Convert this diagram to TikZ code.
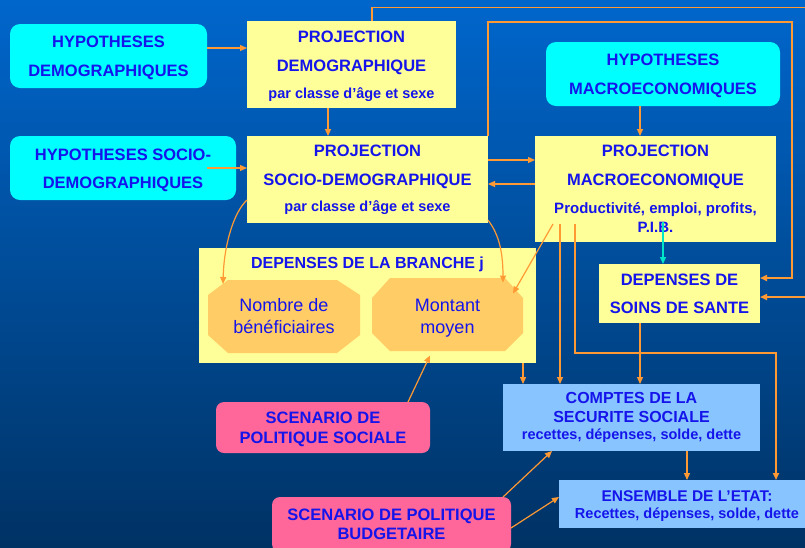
\documentclass[tikz,border=0pt]{standalone}
\usepackage{fontspec}
\setmainfont{Liberation Sans}
\usetikzlibrary{arrows.meta,calc}
\definecolor{bgtop}{RGB}{0,102,204}
\definecolor{bgbot}{RGB}{0,50,100}
\definecolor{cyanbox}{RGB}{0,255,255}
\definecolor{yelbox}{RGB}{255,255,153}
\definecolor{blubox}{RGB}{136,196,255}
\definecolor{pinkbox}{RGB}{255,102,153}
\definecolor{octfill}{RGB}{255,204,102}
\definecolor{txtblue}{RGB}{20,20,235}
\definecolor{arrorange}{RGB}{255,153,51}
\definecolor{arrcyan}{RGB}{0,230,200}
\newcommand\dnstrut{\rule{0pt}{15.5pt}}
\begin{document}
\begin{tikzpicture}[x=1pt,y=-1pt,
  base/.style={inner sep=0pt,outer sep=0pt,align=center,text=txtblue},
  fsz/.style 2 args={font=\fontsize{#1}{#2}\selectfont\bfseries},
  hyp/.style={base,fill=cyanbox,rounded corners=10pt},
  proj/.style={base,fill=yelbox},
  compte/.style={base,fill=blubox},
  scen/.style={base,fill=pinkbox,rounded corners=8pt},
  oct/.style={base,font=\fontsize{18}{22}\selectfont},
  octshape/.style={fill=octfill},
  arr/.style={draw=arrorange,line width=1.2pt,-{Triangle[length=7pt,width=6pt]}},
  loop/.style={arr,line width=1.6pt},
  cyarr/.style={arr,draw=arrcyan,fill=arrcyan}]
\useasboundingbox (0,0) rectangle (805,547);
\shade[top color=bgtop,bottom color=bgbot] (0,0) rectangle (805,547);

% boxes
\node[hyp,fsz={16.5}{29},minimum width=197pt,minimum height=64pt] (hd) at (108.5,56) {\dnstrut HYPOTHESES\\DEMOGRAPHIQUES};
\node[proj,fsz={16.5}{29},minimum width=209pt,minimum height=87pt] (pd) at (351.5,64.5) {\dnstrut PROJECTION\\DEMOGRAPHIQUE\\[-2pt]{\fontsize{14.5}{29}\selectfont par classe d’âge et sexe}};
\node[hyp,fsz={16.5}{28},minimum width=226pt,minimum height=64pt] (hs) at (123,168) {\dnstrut HYPOTHESES SOCIO-\\DEMOGRAPHIQUES};
\node[proj,fsz={16.5}{29},minimum width=241pt,minimum height=87pt] (ps) at (367.5,179.5) {PROJECTION\\SOCIO-DEMOGRAPHIQUE\\[-3pt]{\fontsize{14.5}{29}\selectfont par classe d’âge et sexe}};
\node[hyp,fsz={16.5}{29},minimum width=234pt,minimum height=64pt] (hm) at (663,74) {\dnstrut HYPOTHESES\\MACROECONOMIQUES};
\node[proj,fsz={16.5}{29},minimum width=241pt,minimum height=106pt] (pm) at (655.5,189) {PROJECTION\\MACROECONOMIQUE\\[-1pt]{\fontsize{15}{29}\selectfont Productivité, emploi, profits,}\\[-10pt]{\fontsize{15}{29}\selectfont P.I.B.}};
\node[proj,minimum width=337pt,minimum height=115pt] (br) at (367.5,305.5) {};
\node[base,fsz={16}{19},anchor=base] (brt) at (367.5,268) {DEPENSES DE LA BRANCHE j};
% octagons
\fill[octshape] (228,280) -- (337,280) -- (360,295) -- (360,335) -- (337,353) -- (228,353) -- (208,335) -- (208,295) -- cycle;
\fill[octshape] (390,278) -- (505,278) -- (523,298) -- (523,333) -- (505,351) -- (390,351) -- (372,333) -- (372,298) -- cycle;
\node[oct,minimum width=152pt,minimum height=73pt] (nb) at (284,316.5) {Nombre de\\bénéficiaires};
\node[oct,minimum width=151pt,minimum height=73pt] (mt) at (447.5,318) {Montant\\moyen};
\node[proj,fsz={16.5}{28},minimum width=161pt,minimum height=59pt] (soins) at (679.5,293.5) {DEPENSES DE\\SOINS DE SANTE};
\node[compte,fsz={16}{19},minimum width=257pt,minimum height=67pt] (cs) at (631.5,417.5) {COMPTES DE LA\\SECURITE SOCIALE\\[-2pt]{\fontsize{14.5}{19}\selectfont recettes, dépenses, solde, dette}};
\node[compte,fsz={15.5}{17},minimum width=256pt,minimum height=48pt] (ens) at (687,504) {\dnstrut ENSEMBLE DE L’ETAT:\\{\fontsize{14.5}{17}\selectfont Recettes, dépenses, solde, dette}};
\node[scen,fsz={16.5}{20},minimum width=214pt,minimum height=51pt] (sps) at (323,427.5) {\dnstrut SCENARIO DE\\POLITIQUE SOCIALE};
\node[scen,fsz={16.5}{19},minimum width=239pt,minimum height=55pt] (spb) at (391.5,524.5) {SCENARIO DE POLITIQUE\\BUDGETAIRE};

% connectors
\draw[arr] (hd.east |- 0,48) -- (pd.west |- 0,48);
\draw[arr] (pd.south -| 328,0) -- (ps.north -| 328,0);
\draw[arr] (hs.east -| 207,0) -- (ps.west |- hs.east);
\draw[arr] (ps.east |- 0,160) -- (pm.west |- 0,160);
\draw[arr] (pm.west |- 0,184) -- (ps.east |- 0,184);
\draw[arr] (hm.south -| 640,0) -- (pm.north -| 640,0);
\draw[loop] (pd.north -| 372,0) |- (808,7.5) |- (soins.east |- 0,297);
\draw[loop] (ps.north east) |- (792,22) |- (soins.east |- 0,278);
\draw[arr] (ps.west |- 0,200) .. controls +(-13,12) and +(1,-40) .. ($(nb.north west)+(15,4)$);
\draw[arr] (ps.east |- 0,220) .. controls +(9,12) and +(0,-35) .. ($(mt.north east)+(-20,1)$);
\draw[arr] ($(pm.south west)+(18,-18)$) -- ($(mt.north east)+(-10,12)$);
\draw[arr] ($(pm.south west)+(25,-18)$) -- (cs.north -| 560,0);
\draw[loop] ($(pm.south west)+(40,-18)$) |- (776,353) -- (ens.north -| 776,0);
\draw[cyarr] ($(pm.south -| 663,0)+(0,-20)$) -- (soins.north -| 663,0);
\draw[arr] (br.south -| 523,0) -- (cs.north -| 523,0);
\draw[arr] (soins.south -| 640,0) -- (cs.north -| 640,0);
\draw[arr] (cs.south -| 687,0) -- (ens.north -| 687,0);
\draw[arr] (sps.north -| 408,0) -- ($(mt.south -| 430,0)+(0,1)$);
\draw[arr] (spb.north -| 503,0) -- (cs.south -| 552,0);
\draw[arr] (spb.east |- 0,528) -- (ens.west |- 0,497);
\end{tikzpicture}
\end{document}
